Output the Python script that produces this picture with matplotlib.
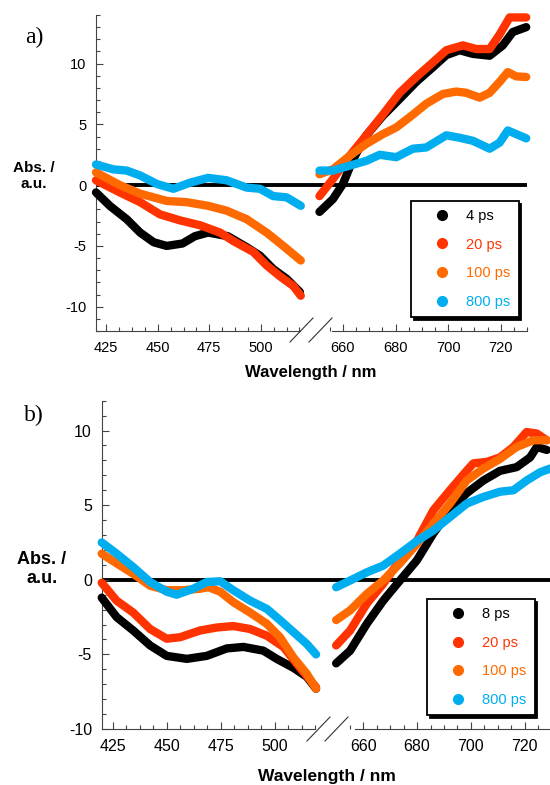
import matplotlib
matplotlib.use("Agg")
import matplotlib.pyplot as plt
from matplotlib.lines import Line2D
from matplotlib.ticker import FixedLocator, NullFormatter
import numpy as np

plt.rcParams['font.family'] = ['Liberation Sans', 'DejaVu Sans']
plt.rcParams['axes.unicode_minus'] = False

# ---- panel a: 4 / 20 / 100 / 800 ps ----
a_labels = ['4 ps', '20 ps', '100 ps', '800 ps']
a_blue_wl = [420, 428.4, 434.9, 441.4, 449.5, 457.6, 465.6, 474.4, 483.4, 493.1, 499.6, 506, 512.5, 519.4]
a_blue_ab = [1.7, 1.3, 1.2, 0.8, 0.1, -0.3, 0.2, 0.6, 0.4, -0.2, -0.3, -0.9, -1.0, -1.7]
a_black_wl = [420, 426.7, 434.9, 441.4, 448, 454.3, 462, 468, 474.4, 484, 493.1, 499.6, 506, 512.5, 519]
a_black_ab = [-0.6, -1.7, -2.8, -3.9, -4.7, -5.0, -4.8, -4.2, -3.9, -4.2, -5.1, -5.8, -6.9, -7.7, -8.8]
a_red_wl = [420, 431.6, 441.4, 451, 460.8, 470.5, 480.2, 486.7, 496.4, 502.8, 509.3, 515.8, 519.4]
a_red_ab = [0.4, -0.6, -1.4, -2.4, -2.9, -3.3, -3.9, -4.6, -5.5, -6.6, -7.5, -8.3, -9.1]
a_orange_wl = [420, 431.6, 441.4, 454.3, 464, 474.4, 483.4, 493.1, 502.8, 510.9, 519.4]
a_orange_ab = [1.05, 0.0, -0.7, -1.3, -1.4, -1.7, -2.1, -2.8, -3.9, -5.0, -6.2]

a_black_wl2 = [651.1, 656.2, 660, 663.8, 668.9, 675.2, 681.6, 687.9, 694.2, 699.3, 704.4, 709.4, 715.8, 720.8, 724.6, 729.7]
a_black_ab2 = [-2.2, -1.15, 0.1, 2.1, 4.1, 5.7, 7.1, 8.5, 9.7, 10.7, 11.1, 10.8, 10.65, 11.5, 12.6, 13.0]
a_red_wl2 = [651.1, 656.2, 662.5, 668.9, 675.2, 681.6, 687.9, 694.2, 699.3, 705.6, 710.7, 715.8, 719.6, 723.4, 729.7]
a_red_ab2 = [-0.9, 0.5, 2.4, 4.1, 5.8, 7.6, 8.9, 10.1, 11.1, 11.5, 11.2, 11.2, 12.4, 13.8, 13.8]
a_orange_wl2 = [651.1, 656.2, 662.5, 668.9, 675.2, 680.3, 686.6, 691.7, 698, 703.1, 706.9, 712, 715.8, 719.6, 722.7, 725.9, 729.7]
a_orange_ab2 = [0.9, 1.3, 2.4, 3.4, 4.2, 4.75, 5.8, 6.7, 7.5, 7.7, 7.6, 7.2, 7.6, 8.5, 9.3, 8.95, 8.9]
a_blue_wl2 = [651.1, 656.2, 662.5, 668.9, 674, 680.3, 686.6, 691.7, 699.3, 704.4, 709.4, 715.8, 719.6, 722.7, 725.9, 729.7]
a_blue_ab2 = [1.2, 1.2, 1.6, 2.0, 2.5, 2.3, 3.0, 3.1, 4.1, 3.9, 3.65, 3.0, 3.5, 4.5, 4.2, 3.85]

# ---- panel b: 8 / 20 / 100 / 800 ps ----
b_labels = ['8 ps', '20 ps', '100 ps', '800 ps']
b_black_wl = [420, 426.9, 434.6, 442.4, 450.1, 459.4, 468.6, 477.9, 485.6, 494.8, 501, 508.7, 514.9, 519.2]
b_black_ab = [-1.2, -2.5, -3.4, -4.4, -5.1, -5.3, -5.1, -4.6, -4.5, -4.75, -5.3, -5.9, -6.5, -7.3]
b_red_wl = [420, 426.9, 434.6, 442.4, 450.1, 456.3, 465.5, 473.2, 480.9, 488.7, 496.4, 504.1, 511.8, 519.2]
b_red_ab = [-0.2, -1.4, -2.2, -3.3, -3.95, -3.85, -3.4, -3.2, -3.1, -3.3, -3.75, -4.5, -5.9, -7.2]
b_orange_wl = [420, 426.9, 434.6, 442.4, 450.1, 457.8, 465.5, 469.4, 474.8, 480.9, 488.7, 496.4, 502.5, 508.7, 514.9, 519.2]
b_orange_ab = [1.75, 1.1, 0.4, -0.4, -0.7, -0.7, -0.6, -0.5, -0.8, -1.5, -2.2, -2.95, -3.85, -5.2, -6.3, -7.3]
b_blue_wl = [420, 426.9, 434.6, 442.4, 450.1, 454.7, 462.4, 468.6, 474.8, 480.9, 488.7, 496.4, 502.5, 508.7, 514.9, 519.2]
b_blue_ab = [2.5, 1.75, 0.85, -0.15, -0.8, -1.0, -0.6, -0.15, -0.1, -0.7, -1.4, -1.95, -2.7, -3.5, -4.3, -5.0]

b_black_wl2 = [649.9, 655.1, 661.3, 667.4, 673.6, 679.9, 686, 692.2, 698.4, 704.6, 710.8, 717, 722, 724.5, 728.2]
b_black_ab2 = [-5.6, -4.75, -2.95, -1.4, -0.05, 1.3, 3.1, 4.65, 5.8, 6.65, 7.3, 7.55, 8.2, 8.9, 8.7]
b_red_wl2 = [649.9, 655.1, 661.3, 667.4, 673.6, 679.9, 686, 692.2, 698.4, 700.9, 705.9, 710.8, 715.8, 720.7, 724.5, 728.2]
b_red_ab2 = [-4.4, -3.4, -1.6, -0.27, 1.3, 2.6, 4.65, 6.0, 7.3, 7.8, 7.9, 8.2, 8.9, 9.9, 9.8, 9.35]
b_orange_wl2 = [649.9, 655.1, 661.3, 667.4, 673.6, 679.9, 686, 692.2, 698.4, 704.6, 710.8, 717, 723.2, 728.2]
b_orange_ab2 = [-2.7, -2.05, -0.95, -0.05, 1.1, 2.4, 3.75, 5.1, 6.65, 7.45, 8.1, 8.9, 9.35, 9.35]
b_blue_wl2 = [649.9, 655.1, 661.3, 667.4, 673.6, 679.9, 686, 692.2, 698.4, 704.6, 710.8, 715.8, 720.7, 725.7, 729.4]
b_blue_ab2 = [-0.5, -0.05, 0.5, 0.95, 1.75, 2.6, 3.3, 4.2, 5.1, 5.55, 5.9, 6.0, 6.65, 7.2, 7.45]

colors = ['black', '#FF3300', '#FF6A00', '#00AEEF']

W, H = 550, 785
fig = plt.figure(figsize=(W / 100, H / 100), dpi=100)


def box(x0, y0, x1, y1):
    # pixel box (top-left origin) -> figure fraction rect
    return [x0 / W, 1 - y1 / H, (x1 - x0) / W, (y1 - y0) / H]


def style_axes(ax, left_side, ticksize):
    for s in ['top', 'right']:
        ax.spines[s].set_visible(False)
    ax.spines['bottom'].set_color('#444444')
    ax.spines['left'].set_color('#444444')
    ax.tick_params(which='both', direction='in', colors='#444444', labelcolor='black',
                   labelsize=ticksize, pad=7)
    ax.tick_params(which='major', length=5, width=0.8)
    ax.tick_params(which='minor', length=2.6, width=0.8)
    if left_side:
        ax.yaxis.set_major_locator(FixedLocator([-10, -5, 0, 5, 10]))
        ax.yaxis.set_minor_locator(FixedLocator(np.arange(-12, 15, 1)))
        ax.xaxis.set_major_locator(FixedLocator([425, 450, 475, 500]))
        ax.xaxis.set_minor_locator(FixedLocator(np.arange(425, 520, 6.25)))
    else:
        ax.spines['left'].set_visible(False)
        ax.tick_params(axis='y', which='both', left=False, labelleft=False)
        ax.xaxis.set_major_locator(FixedLocator([660, 680, 700, 720]))
        ax.xaxis.set_minor_locator(FixedLocator(np.arange(655, 731, 5)))
    ax.xaxis.set_minor_formatter(NullFormatter())
    ax.patch.set_alpha(0)
    ax.axhline(0, color='black', lw=2.8, zorder=1)


def draw_panel(lbox, rbox, lxlim, rxlim, ylim, lbound, rbound, left_curves, right_curves,
               labels, legend_xy, tag, tag_xy, ylab_xy, xlab_xy, slash_y, slash_x,
               ticksize, ylabsize, xlabsize):
    axl = fig.add_axes(box(*lbox))
    axr = fig.add_axes(box(*rbox))
    for ax, left_side in [(axl, True), (axr, False)]:
        ax.set_ylim(*ylim)
        style_axes(ax, left_side, ticksize)
    axl.set_xlim(*lxlim)
    axr.set_xlim(*rxlim)
    axl.spines['bottom'].set_bounds(*lbound)
    axr.spines['bottom'].set_bounds(*rbound)

    for (wl, ab), c in zip(left_curves, colors):
        axl.plot(wl, ab, color=c, lw=6, solid_capstyle='round', solid_joinstyle='round',
                 zorder=3, clip_on=False)
    for (wl, ab), c in zip(right_curves, colors):
        axr.plot(wl, ab, color=c, lw=6, solid_capstyle='round', solid_joinstyle='round',
                 zorder=3, clip_on=False)

    handles = [Line2D([], [], ls='none', marker='o', ms=7, color=c) for c in colors]
    leg = axr.legend(handles, labels, loc='upper left', bbox_to_anchor=(legend_xy[0] / W, 1 - legend_xy[1] / H),
                     bbox_transform=fig.transFigure, borderaxespad=0, borderpad=0.55,
                     handlelength=3.1, handletextpad=0.15, labelspacing=1.0, fontsize=10.5,
                     fancybox=False, framealpha=1, edgecolor='black',
                     shadow={'color': 'black', 'alpha': 1})
    leg.get_frame().set_linewidth(1.3)
    for t, c in zip(leg.get_texts(), colors):
        t.set_color(c)

    # axis break marks
    for sx in slash_x:
        fig.add_artist(Line2D([sx / W, (sx + 23) / W], [1 - (slash_y + 13) / H, 1 - (slash_y - 11) / H],
                              color='#333333', lw=0.8))

    fig.text(tag_xy[0] / W, 1 - tag_xy[1] / H, tag, family='Liberation Serif', fontsize=17,
             ha='center', va='center')
    fig.text(ylab_xy[0] / W, 1 - ylab_xy[1] / H, 'Abs. /\na.u.', fontsize=ylabsize, fontweight='bold',
             ha='center', va='center', linespacing=1.15)
    fig.text(xlab_xy[0] / W, 1 - xlab_xy[1] / H, 'Wavelength / nm', fontsize=xlabsize, fontweight='bold',
             ha='center', va='center')


draw_panel((96, 15, 312, 331), (312, 15, 527, 331), (420, 524.85), (648.25, 730), (-12, 14),
           (420, 519), (656, 730),
           [(a_black_wl, a_black_ab), (a_red_wl, a_red_ab), (a_orange_wl, a_orange_ab), (a_blue_wl, a_blue_ab)],
           [(a_black_wl2, a_black_ab2), (a_red_wl2, a_red_ab2), (a_orange_wl2, a_orange_ab2), (a_blue_wl2, a_blue_ab2)],
           a_labels, (411, 201), 'a)', (34, 37), (34, 176), (311, 373), 329, (290, 309),
           10.5, 11, 12)

draw_panel((101.7, 400.7, 326, 729), (326, 400.7, 550, 729), (420, 523.8), (646.13, 729.4), (-10, 12),
           (420, 518.5), (657, 729.4),
           [(b_black_wl, b_black_ab), (b_red_wl, b_red_ab), (b_orange_wl, b_orange_ab), (b_blue_wl, b_blue_ab)],
           [(b_black_wl2, b_black_ab2), (b_red_wl2, b_red_ab2), (b_orange_wl2, b_orange_ab2), (b_blue_wl2, b_blue_ab2)],
           b_labels, (427, 599), 'b)', (34, 415), (42, 569), (327, 776), 728, (307, 325),
           11.5, 13, 12.5)

fig.savefig('out.png', dpi=100)
